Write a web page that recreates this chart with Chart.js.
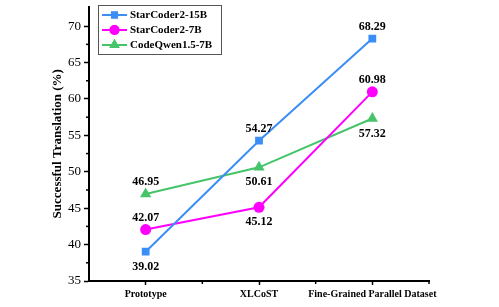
<!DOCTYPE html>
<html>
<head>
<meta charset="utf-8">
<script src="https://cdn.jsdelivr.net/npm/chart.js@4.4.1/dist/chart.umd.min.js"></script>
<style>
  html, body { margin: 0; padding: 0; background: #fff; }
  #wrap { width: 499px; height: 307px; }
</style>
</head>
<body>
<div id="wrap"><canvas id="chart" width="499" height="307"></canvas></div>
<script>
const categories = ['Prototype', 'XLCoST', 'Fine-Grained Parallel Dataset'];
const starCoder15B = [39.02, 54.27, 68.29];
const starCoder7B = [42.07, 45.12, 60.98];
const codeQwen7B = [46.95, 50.61, 57.32];
const yTicks = [35, 40, 45, 50, 55, 60, 65, 70];
// label placement: 1 = above point, -1 = below
const labelSide = [
    [-1, 1, 1],
    [1, -1, 1],
    [1, -1, -1]
];

const SERIF = '"Liberation Serif", "Times New Roman", serif';

const seriesStyle = [
    { label: 'StarCoder2-15B', data: starCoder15B, color: '#3b8ef5', pointStyle: 'rect', radius: 5.5 },
    { label: 'StarCoder2-7B', data: starCoder7B, color: '#ff00ff', pointStyle: 'circle', radius: 5.5 },
    { label: 'CodeQwen1.5-7B', data: codeQwen7B, color: '#45c46a', pointStyle: 'triangle', radius: 6.5 }
];

// value labels + minor ticks + legend
const extras = {
    id: 'extras',
    afterDatasetsDraw(chart) {
        const ctx = chart.ctx;
        const y = chart.scales.y;
        const x = chart.scales.x;
        ctx.save();
        ctx.strokeStyle = '#000';
        ctx.lineWidth = 1.5;
        // minor y ticks
        for (let v = 37.5; v < 72; v += 5) {
            const py = y.getPixelForValue(v);
            ctx.beginPath();
            ctx.moveTo(x.left - 3, py);
            ctx.lineTo(x.left, py);
            ctx.stroke();
        }
        // minor x ticks at category boundaries
        for (let i = 0; i < categories.length; i++) {
            const px = x.getPixelForValue(i) + (x.getPixelForValue(1) - x.getPixelForValue(0)) / 2;
            ctx.beginPath();
            ctx.moveTo(px, y.bottom);
            ctx.lineTo(px, y.bottom + 3);
            ctx.stroke();
        }

        // value labels
        ctx.fillStyle = '#000';
        ctx.font = 'bold 12px ' + SERIF;
        ctx.textAlign = 'center';
        chart.data.datasets.forEach((ds, di) => {
            const meta = chart.getDatasetMeta(di);
            meta.data.forEach((pt, i) => {
                const side = labelSide[di][i];
                ctx.textBaseline = side > 0 ? 'bottom' : 'top';
                ctx.fillText(ds.data[i].toFixed(2), pt.x, side > 0 ? pt.y - 6 : pt.y + 9);
            });
        });

        // legend box
        const lx = 98, ly = 5, lw = 123, lh = 49;
        ctx.fillStyle = '#fff';
        ctx.fillRect(lx, ly, lw, lh);
        ctx.strokeStyle = '#555';
        ctx.lineWidth = 1;
        ctx.strokeRect(lx + 0.5, ly + 0.5, lw, lh);
        ctx.font = 'bold 11px ' + SERIF;
        ctx.textAlign = 'left';
        ctx.textBaseline = 'middle';
        seriesStyle.forEach((s, i) => {
            const cy = ly + 10 + i * 15;
            ctx.strokeStyle = s.color;
            ctx.lineWidth = 2;
            ctx.beginPath();
            ctx.moveTo(lx + 4, cy);
            ctx.lineTo(lx + 29, cy);
            ctx.stroke();
            ctx.fillStyle = s.color;
            Chart.helpers.drawPoint(ctx, { pointStyle: s.pointStyle, radius: s.radius - 0.5, borderWidth: 0 }, lx + 16.5, cy);
            ctx.fill();
            ctx.fillStyle = '#000';
            ctx.fillText(s.label, lx + 32, cy + 0.5);
        });
        ctx.restore();
    }
};

new Chart(document.getElementById('chart'), {
    type: 'line',
    data: {
        labels: categories,
        datasets: seriesStyle.map(s => ({
            label: s.label,
            data: s.data,
            borderColor: s.color,
            backgroundColor: s.color,
            pointBackgroundColor: s.color,
            pointBorderColor: s.color,
            pointStyle: s.pointStyle,
            pointRadius: s.radius,
            pointBorderWidth: 0,
            borderWidth: 2,
            tension: 0
        }))
    },
    options: {
        responsive: false,
        animation: false,
        events: [],
        layout: { padding: { top: 5, right: 70, left: 0, bottom: 0 } },
        plugins: {
            legend: { display: false },
            tooltip: { enabled: false }
        },
        scales: {
            x: {
                type: 'category',
                offset: true,
                afterFit(scale) { scale.height = 26; },
                grid: { display: true, drawOnChartArea: false, tickLength: 4, tickColor: '#000', tickWidth: 1.5 },
                border: { display: true, color: '#000', width: 2 },
                ticks: { color: '#000', padding: 3, font: { family: SERIF, size: 10, weight: 'bold' }, maxRotation: 0, autoSkip: false }
            },
            y: {
                min: 35,
                max: 72.7,
                afterFit(scale) {
                    scale.width = 89;
                    scale.paddingTop = 0;
                    scale.paddingBottom = 0;
                },
                afterBuildTicks(scale) { scale.ticks = yTicks.map(v => ({ value: v })); },
                grid: { display: true, drawOnChartArea: false, tickLength: 5, tickColor: '#000', tickWidth: 1.5 },
                border: { display: true, color: '#000', width: 2 },
                ticks: { color: '#000', padding: 3, font: { family: SERIF, size: 13 } },
                title: {
                    display: true,
                    text: 'Successful Translation (%)',
                    color: '#000',
                    font: { family: SERIF, size: 13, weight: 'bold' },
                    padding: { top: 50, bottom: 0 }
                }
            }
        }
    },
    plugins: [extras]
});
</script>
</body>
</html>
